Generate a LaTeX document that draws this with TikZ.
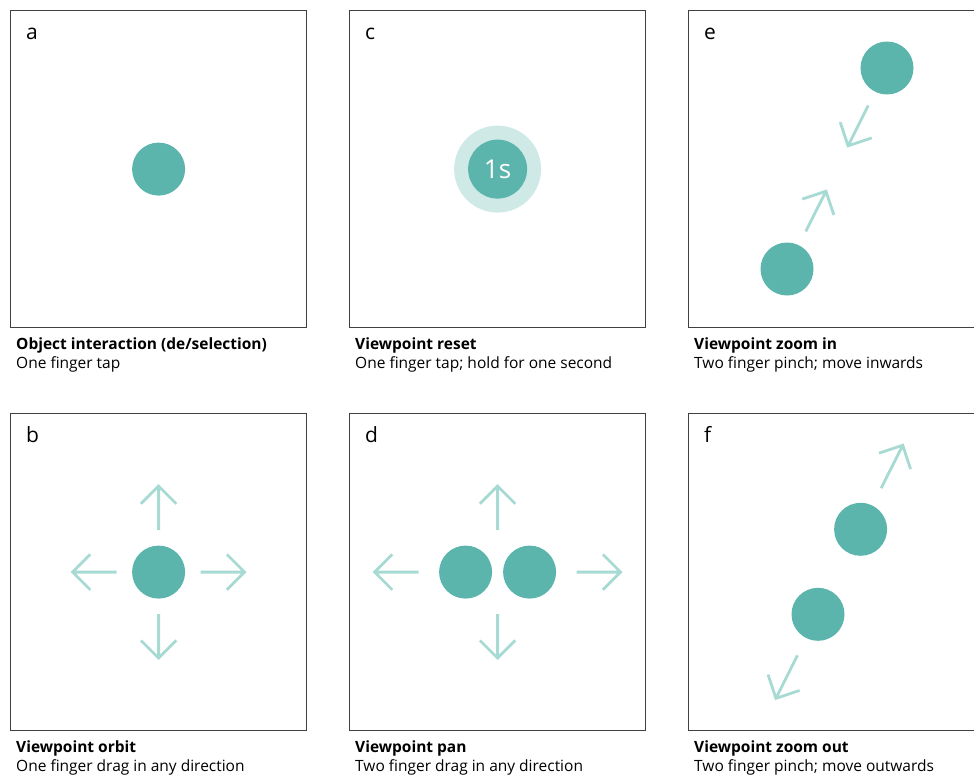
\documentclass[tikz,border=0pt]{standalone}
\usepackage{fontspec}
\setmainfont{Open Sans}
\usetikzlibrary{calc}

\definecolor{touch}{HTML}{5BB5AC}
\definecolor{halo}{HTML}{CFE9E6}
\definecolor{motion}{HTML}{A8DAD4}
\definecolor{frame}{HTML}{404040}

% one swipe arrow: circle node, screen angle, start and end distance from its centre
\newcommand\swipe[4]{%
  \draw[swipeline] ($(#1)+(#2:#3)$) -- ($(#1)+(#2:#4)$) coordinate (tip)
    ++(#2+135:25) -- (tip) -- ++(#2-135:25);}

\begin{document}
\begin{tikzpicture}[x=1pt,y=-1pt,
  panel/.style={draw=frame, line width=1.2pt, minimum width=296pt,
    minimum height=317pt, anchor=north west, inner sep=0pt},
  finger/.style={circle, fill=touch, minimum size=53pt, inner sep=0pt},
  swipeline/.style={draw=motion, line width=2.8pt, miter limit=4},
  tag/.style={anchor=base west, inner sep=0pt, font=\fontsize{21}{21}\selectfont},
  title/.style={anchor=base west, inner sep=0pt, font=\fontsize{15.5}{18}\selectfont\bfseries},
  gesture/.style={anchor=base west, inner sep=0pt, font=\fontsize{15.5}{18}\selectfont},
]
\useasboundingbox (0,0) rectangle (974,776);

% panels
\node[panel] (pa) at (10,10) {};
\node[panel] (pc) at (349,10) {};
\node[panel] (pe) at (688,10) {};
\node[panel] (pb) at (10,413) {};
\node[panel] (pd) at (349,413) {};
\node[panel] (pf) at (688,413) {};

% panel letters
\foreach \p/\l in {pa/a, pb/b, pc/c, pd/d, pe/e, pf/f}
  {\node[tag] (tag\l) at ($(\p.north west)+(16,29.5)$) {\l};}

% captions
\foreach \p/\t/\g in {
  pa/{Object interaction (de/selection)}/{One finger tap},
  pc/{Viewpoint reset}/{One finger tap; hold for one second},
  pe/{Viewpoint zoom in}/{Two finger pinch; move inwards},
  pb/{Viewpoint orbit}/{One finger drag in any direction},
  pd/{Viewpoint pan}/{Two finger drag in any direction},
  pf/{Viewpoint zoom out}/{Two finger pinch; move outwards}} {
  \node[title] (t\p) at ($(\p.south west)+(6,21)$) {\t};
  \node[gesture] (g\p) at ($(\p.south west)+(6,40)$) {\g};
}

% a: tap
\node[finger] (fa) at (pa.center) {};

% c: tap and hold
\node[circle, fill=halo, minimum size=87pt, inner sep=0pt] (hc) at (pc.center) {};
\node[circle, fill=touch, minimum size=59pt, inner sep=0pt,
  text=white, font=\fontsize{26}{26}\selectfont] (fc) at (pc.center) {1s};

% e: pinch inwards
\node[finger] (fe1) at (887,68) {};
\node[finger] (fe2) at (787,269) {};
\swipe{fe1}{116.6}{42}{87}
\swipe{fe2}{-63.4}{42}{87}

% b: orbit
\node[finger] (fb) at (pb.center) {};
\foreach \a in {0,90,180,270} {\swipe{fb}{\a}{42}{86}}

% d: pan
\node[finger] (fd1) at ($(pd.center)+(-32,0)$) {};
\node[finger] (fd2) at ($(pd.center)+(32,0)$) {};
\coordinate (dm) at (pd.center);
\swipe{dm}{-90}{42}{86}
\swipe{dm}{90}{42}{86}
\swipe{dm}{180}{79}{123}
\swipe{dm}{0}{79}{123}

% f: pinch outwards
\node[finger] (ff1) at (860.6,529.3) {};
\node[finger] (ff2) at (818,614.3) {};
\swipe{ff1}{-63.4}{46}{94}
\swipe{ff2}{116.6}{46}{94}
\end{tikzpicture}
\end{document}
